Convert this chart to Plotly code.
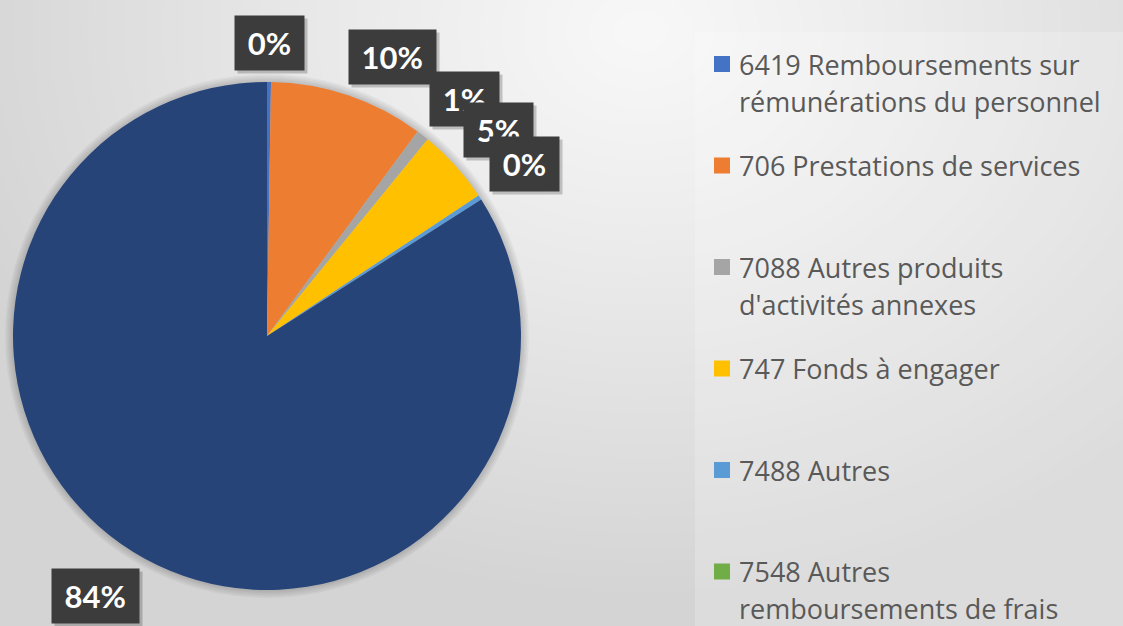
import base64
import struct
import zlib

import numpy as np
import plotly.graph_objects as go

# ---------------- data ----------------
categories = [
    "6419 Remboursements sur<br>rémunérations du personnel",
    "706 Prestations de services",
    "7088 Autres produits<br>d'activités annexes",
    "747 Fonds à engager",
    "7488 Autres",
    "7548 Autres<br>remboursements de frais",
    "Autres catégories",
]
values = [0.25, 9.85, 0.8, 4.77, 0.3, 0.0, 84.03]
colors = ["#4472C4", "#ED7D31", "#A5A5A5", "#FFC000", "#5B9BD5", "#70AD47", "#264478"]
legend_count = 6  # entries visible in the legend

# ---------------- geometry ----------------
W, H = 1123, 626
CX, CY, R = 267, 336, 254  # pie centre / radius in px


def px_to_paper(x, y):
    return x / W, 1 - y / H


# ---------------- background gradient (PNG built in memory) ----------------
def make_png(arr):
    h, w, _ = arr.shape
    raw = b"".join(b"\x00" + arr[y].tobytes() for y in range(h))

    def chunk(t, d):
        return struct.pack(">I", len(d)) + t + d + struct.pack(">I", zlib.crc32(t + d) & 0xFFFFFFFF)

    ihdr = struct.pack(">IIBBBBB", w, h, 8, 2, 0, 0, 0)
    return b"\x89PNG\r\n\x1a\n" + chunk(b"IHDR", ihdr) + chunk(b"IDAT", zlib.compress(raw, 9)) + chunk(b"IEND", b"")


gw, gh = 562, 313
yy, xx = np.mgrid[0:gh, 0:gw]
xs = xx * (W / gw)
ys = yy * (H / gh)
d = np.sqrt((xs - 640) ** 2 + ((ys - 30) * 1.25) ** 2)
b = 248 - 36 * np.clip(d / 720, 0, 1) ** 1.1
img = np.repeat(b[:, :, None], 3, axis=2).astype(np.uint8)
bg_src = "data:image/png;base64," + base64.b64encode(make_png(img)).decode()

# ---------------- figure ----------------
x0, y0 = px_to_paper(CX - R, CY + R)
x1, y1 = px_to_paper(CX + R, CY - R)

fig = go.Figure(
    go.Pie(
        labels=categories,
        values=values,
        marker=dict(colors=colors, line=dict(width=0)),
        sort=False,
        direction="clockwise",
        rotation=0,
        textinfo="none",
        hoverinfo="label+percent",
        showlegend=False,
        domain=dict(x=[x0, x1], y=[y0, y1]),
    )
)

shapes = []
annotations = []

# soft pie shadow
for k in range(1, 6):
    sx0, sy0 = px_to_paper(CX - R - k * 1.6, CY + R + k * 1.6)
    sx1, sy1 = px_to_paper(CX + R + k * 1.6, CY - R - k * 1.6)
    shapes.append(dict(type="circle", xref="paper", yref="paper", x0=sx0, x1=sx1, y0=sy0, y1=sy1,
                       fillcolor="rgba(0,0,0,0.035)", line=dict(width=0), layer="below"))

# lighter legend area
lx0, ly0 = px_to_paper(695, H)
lx1, ly1 = px_to_paper(W, 32)
shapes.append(dict(type="rect", xref="paper", yref="paper", x0=lx0, x1=lx1, y0=ly0, y1=ly1,
                   fillcolor="rgba(255,255,255,0.2)", line=dict(width=0), layer="below"))

# data labels (outside end, dark boxes)
vals = np.array(values, dtype=float)
total = vals.sum()
cum = np.cumsum(vals)
mid_deg = (cum - vals / 2) / total * 360
box_h = 54
R0 = R + 12
for i, v in enumerate(vals):
    if v <= 0:
        continue
    txt = f"{round(v / total * 100):.0f}%"
    box_w = 34 + 17.5 * len(txt)
    th = np.deg2rad(mid_deg[i])
    s, c = np.sin(th), np.cos(th)
    px = CX + R0 * s + np.clip(s / 0.34, -1, 1) * box_w / 2
    py = CY - R0 * c - np.clip(c / 0.34, -1, 1) * box_h / 2
    ax, ay = px_to_paper(px, py)
    annotations.append(dict(x=ax, y=ay, xref="paper", yref="paper", text=" ", showarrow=False,
                            xanchor="center", yanchor="middle",
                            width=box_w, height=box_h, bgcolor="rgba(0,0,0,0.2)",
                            xshift=3, yshift=-3, borderpad=0))
    annotations.append(dict(x=ax, y=ay, xref="paper", yref="paper", text=txt, showarrow=False,
                            xanchor="center", yanchor="middle",
                            width=box_w, height=box_h, bgcolor="#3c3c3c", borderpad=0,
                            align="center", valign="middle",
                            font=dict(family="Lato, Noto Sans, sans-serif", size=31, color="white",
                                      weight="bold")))

# custom legend
slot_top, slot_step, line_step = 64, 101.5, 37
for i in range(legend_count):
    yc = slot_top + i * slot_step
    qx0, qy0 = px_to_paper(714, yc + 8)
    qx1, qy1 = px_to_paper(730, yc - 8)
    shapes.append(dict(type="rect", xref="paper", yref="paper", x0=qx0, x1=qx1, y0=qy0, y1=qy1,
                       fillcolor=colors[i], line=dict(width=0)))
    for j, line in enumerate(categories[i].split("<br>")):
        tx, ty = px_to_paper(738, yc + j * line_step)
        annotations.append(dict(x=tx, y=ty, xref="paper", yref="paper", text=line, showarrow=False,
                                xanchor="left", yanchor="middle", borderpad=0,
                                font=dict(family="Open Sans, Lato, sans-serif", size=27, color="#595959")))

fig.update_layout(
    width=W,
    height=H,
    margin=dict(l=0, r=0, t=0, b=0),
    paper_bgcolor="#e4e4e4",
    plot_bgcolor="rgba(0,0,0,0)",
    shapes=shapes,
    annotations=annotations,
    images=[dict(source=bg_src, xref="paper", yref="paper", x=0, y=1, sizex=1, sizey=1,
                 sizing="stretch", xanchor="left", yanchor="top", layer="below")],
)

fig.write_html("out.html", config={"displayModeBar": False},
               post_script="document.body.style.margin='0';document.body.style.overflow='hidden';")
